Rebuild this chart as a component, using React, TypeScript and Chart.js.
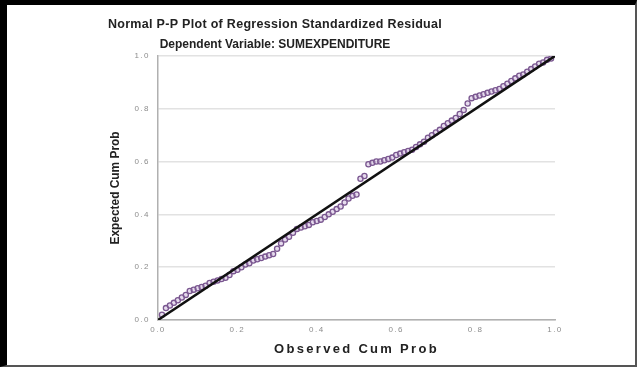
import React, { useEffect, useRef } from "react";
import { Chart, registerables } from "chart.js";

Chart.register(...registerables);

const TITLE = "Normal P-P Plot of Regression Standardized Residual";
const SUBTITLE = "Dependent Variable: SUMEXPENDITURE";
const X_TITLE = "Observed Cum Prob";
const Y_TITLE = "Expected Cum Prob";

const observedCumProb = [
  0.01, 0.02, 0.03, 0.04, 0.05, 0.06, 0.07, 0.08, 0.09, 0.10,
  0.11, 0.12, 0.13, 0.14, 0.15, 0.16, 0.17, 0.18, 0.19, 0.20,
  0.21, 0.22, 0.23, 0.24, 0.25, 0.26, 0.27, 0.28, 0.29, 0.30,
  0.31, 0.32, 0.33, 0.34, 0.35, 0.36, 0.37, 0.38, 0.39, 0.40,
  0.41, 0.42, 0.43, 0.44, 0.45, 0.46, 0.47, 0.48, 0.49, 0.50,
  0.51, 0.52, 0.53, 0.54, 0.55, 0.56, 0.57, 0.58, 0.59, 0.60,
  0.61, 0.62, 0.63, 0.64, 0.65, 0.66, 0.67, 0.68, 0.69, 0.70,
  0.71, 0.72, 0.73, 0.74, 0.75, 0.76, 0.77, 0.78, 0.79, 0.80,
  0.81, 0.82, 0.83, 0.84, 0.85, 0.86, 0.87, 0.88, 0.89, 0.90,
  0.91, 0.92, 0.93, 0.94, 0.95, 0.96, 0.97, 0.98, 0.99,
];

const expectedCumProb = [
  0.02, 0.045, 0.055, 0.065, 0.075, 0.085, 0.095, 0.11, 0.115, 0.12,
  0.125, 0.13, 0.14, 0.145, 0.15, 0.155, 0.16, 0.17, 0.185, 0.19,
  0.2, 0.21, 0.215, 0.225, 0.23, 0.235, 0.24, 0.245, 0.25, 0.27,
  0.29, 0.305, 0.315, 0.33, 0.345, 0.35, 0.355, 0.36, 0.37, 0.375,
  0.38, 0.39, 0.4, 0.41, 0.42, 0.43, 0.445, 0.46, 0.47, 0.475,
  0.535, 0.545, 0.59, 0.595, 0.6, 0.6, 0.605, 0.61, 0.615, 0.625,
  0.63, 0.635, 0.64, 0.645, 0.655, 0.665, 0.675, 0.69, 0.7, 0.71,
  0.72, 0.735, 0.745, 0.755, 0.765, 0.78, 0.795, 0.82, 0.84, 0.845,
  0.85, 0.855, 0.86, 0.865, 0.87, 0.875, 0.885, 0.895, 0.905, 0.915,
  0.925, 0.93, 0.94, 0.95, 0.96, 0.97, 0.975, 0.985, 0.99,
];

const referenceLineX = [0, 1];
const referenceLineY = [0, 1];

const AXIS_MIN = 0;
const AXIS_MAX = 1;
const AXIS_STEP = 0.2;

const FONT = "'Liberation Sans', Arial, sans-serif";

// letter spacing (px) applied per font size, to mimic the stretched reference text
const SPACING_BY_SIZE: Record<string, number> = {
  "12.5": 0.3,
  "12": 0,
  "13": 2.3,
  "11.9": 0,
  "8": 1.5,
};

const letterSpacingPlugin = {
  id: "letterSpacing",
  beforeDraw(chart: any) {
    const ctx = chart.ctx as any;
    if (ctx.__spacingPatched) return;
    ctx.__spacingPatched = true;
    const orig = ctx.fillText.bind(ctx);
    ctx.fillText = (text: string, x: number, y: number, maxWidth?: number) => {
      const m = /([\d.]+)px/.exec(ctx.font);
      const size = m ? String(parseFloat(m[1])) : "";
      const sp = SPACING_BY_SIZE[size] ?? 0;
      const prev = ctx.letterSpacing;
      ctx.letterSpacing = sp + "px";
      if (maxWidth === undefined) orig(text, x, y);
      else orig(text, x, y, maxWidth);
      ctx.letterSpacing = prev;
    };
  },
};

export default function App() {
  const canvasRef = useRef<HTMLCanvasElement | null>(null);

  useEffect(() => {
    if (!canvasRef.current) return;
    const points = observedCumProb.map((x, i) => ({ x, y: expectedCumProb[i] }));
    const line = referenceLineX.map((x, i) => ({ x, y: referenceLineY[i] }));

    const chart = new Chart(canvasRef.current, {
      type: "scatter",
      plugins: [letterSpacingPlugin],
      data: {
        datasets: [
          {
            type: "line",
            data: line,
            borderColor: "#111111",
            borderWidth: 2.5,
            pointRadius: 0,
            fill: false,
            order: 0,
          } as any,
          {
            type: "scatter",
            data: points,
            pointRadius: 2.6,
            borderWidth: 1.3,
            borderColor: "#7a5790",
            backgroundColor: "rgba(200,175,215,0.45)",
            order: 1,
          },
        ],
      },
      options: {
        animation: false,
        responsive: false,
        devicePixelRatio: 1,
        layout: { padding: { left: -12, right: 80, top: 0, bottom: 0 } },
        plugins: {
          legend: { display: false },
          tooltip: { enabled: false },
          title: {
            display: true,
            text: TITLE,
            color: "#222222",
            font: { family: FONT, size: 12.5, weight: "bold" },
            padding: { top: 12, bottom: 5.5 },
          },
          subtitle: {
            display: true,
            text: SUBTITLE,
            color: "#222222",
            font: { family: FONT, size: 12, weight: "bold" },
            padding: { top: 0, bottom: 4 },
          },
        },
        scales: {
          x: {
            type: "linear",
            min: AXIS_MIN,
            max: AXIS_MAX,
            afterFit: (scale: any) => {
              scale.height = 45;
            },
            ticks: {
              stepSize: AXIS_STEP,
              padding: 5,
              color: "#8c8c8c",
              font: { family: FONT, size: 8 },
              maxRotation: 0,
              callback: (v: any) => Number(v).toFixed(1),
            },
            grid: { display: false, drawTicks: false },
            border: { display: true, color: "#b0b0b0", width: 1.5 },
            title: {
              display: true,
              text: X_TITLE,
              color: "#222222",
              font: { family: FONT, size: 13, weight: "bold" },
              padding: { top: 0, bottom: 8 },
            },
          },
          y: {
            type: "linear",
            min: AXIS_MIN,
            max: AXIS_MAX,
            afterFit: (scale: any) => {
              scale.width = 163;
            },
            ticks: {
              stepSize: AXIS_STEP,
              padding: 8,
              color: "#8c8c8c",
              font: { family: FONT, size: 8 },
              callback: (v: any) => Number(v).toFixed(1),
            },
            grid: { display: true, drawTicks: false, color: "#e2e2e2", lineWidth: 1.5 },
            border: { display: true, color: "#b0b0b0", width: 1.5 },
            title: {
              display: true,
              text: Y_TITLE,
              color: "#222222",
              font: { family: FONT, size: 11.9, weight: "bold" },
              padding: { top: 114, bottom: 0 },
            },
          },
        },
      },
    });
    return () => chart.destroy();
  }, []);

  return (
    <div
      style={{
        position: "fixed",
        left: 0,
        top: 0,
        width: 637,
        height: 367,
        boxSizing: "border-box",
        background: "#ffffff",
        borderTop: "5px solid #000000",
        borderLeft: "7px solid #000000",
        borderRight: "2px solid #555555",
        borderBottom: "2px solid #555555",
      }}
    >
      <canvas ref={canvasRef} width={628} height={360} style={{ display: "block" }} />
    </div>
  );
}
